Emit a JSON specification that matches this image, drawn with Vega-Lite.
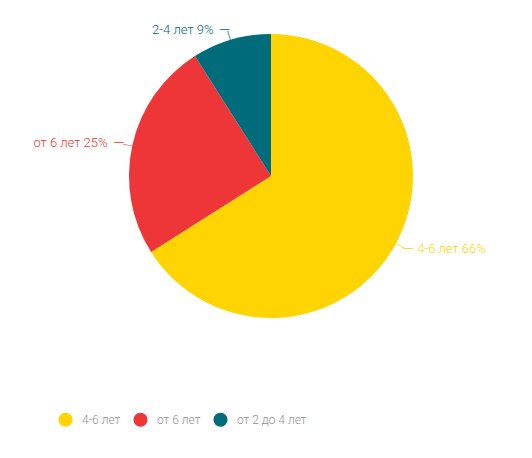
{
  "$schema": "https://vega.github.io/schema/vega-lite/v6.json",
  "width": 522,
  "height": 352,
  "autosize": "none",
  "padding": {"left": 10, "top": 0, "right": 0, "bottom": 106},
  "background": "white",
  "config": {"view": {"stroke": null}, "font": "Roboto"},
  "data": {
    "values": [
      {"category": "4-6 лет", "label": "4-6 лет 66%", "value": 66, "order": 1, "side": "right"},
      {"category": "от 6 лет", "label": "от 6 лет 25%", "value": 25, "order": 2, "side": "left"},
      {"category": "от 2 до 4 лет", "label": "2-4 лет 9%", "value": 9, "order": 3, "side": "left"}
    ]
  },
  "encoding": {
    "theta": {"field": "value", "type": "quantitative", "stack": true},
    "order": {"field": "order", "type": "quantitative"},
    "color": {
      "field": "category",
      "type": "nominal",
      "scale": {
        "domain": ["4-6 лет", "от 6 лет", "от 2 до 4 лет"],
        "range": ["#FFD400", "#EE3537", "#006B7A"]
      },
      "legend": {
        "orient": "none",
        "legendX": 48,
        "legendY": 412,
        "direction": "horizontal",
        "title": null,
        "symbolType": "circle",
        "symbolSize": 200,
        "symbolStrokeWidth": 0,
        "labelFontSize": 12,
        "labelFontWeight": 300,
        "labelColor": "#8f8f8f",
        "labelFont": "Roboto",
        "labelOffset": 9,
        "columnPadding": 12
      }
    }
  },
  "layer": [
    {"mark": {"type": "arc", "outerRadius": 142}},
    {
      "mark": {
        "type": "text",
        "radius": 147,
        "text": "—",
        "fontSize": 14,
        "fontWeight": 300,
        "align": "center",
        "baseline": "middle",
        "angle": {"expr": "(datum.value_start + datum.value_end) * 1.8 - 90"}
      }
    },
    {
      "mark": {
        "type": "text",
        "radius": 152,
        "text": "—",
        "fontSize": 15,
        "fontWeight": 300,
        "align": "center",
        "baseline": "middle",
        "dx": {"expr": "datum.side == 'left' ? -4 : 4"}
      }
    },
    {
      "mark": {
        "type": "text",
        "radius": 152,
        "fontSize": 13,
        "fontWeight": 300,
        "baseline": "middle",
        "align": {"expr": "datum.side == 'left' ? 'right' : 'left'"},
        "dx": {"expr": "datum.side == 'left' ? -15 : 13"}
      },
      "encoding": {"text": {"field": "label"}}
    }
  ]
}
